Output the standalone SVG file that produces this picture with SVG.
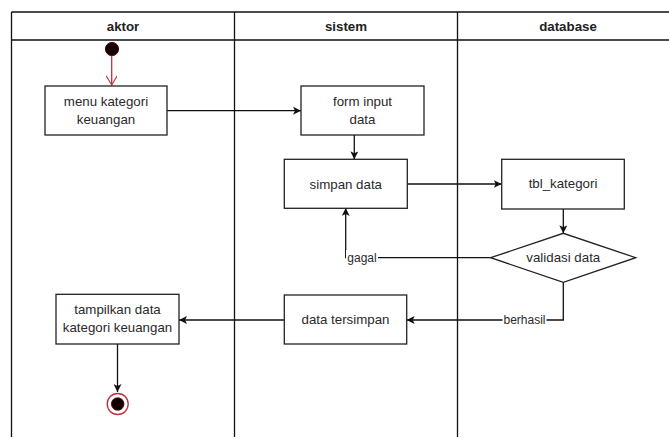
<svg xmlns="http://www.w3.org/2000/svg" width="669" height="438" viewBox="0 0 669 438">
  <style>
    .lane { fill: none; stroke: #111; stroke-width: 1.3; }
    .head { font-family: "Liberation Sans", Arial, sans-serif; font-size: 13.3px; font-weight: bold; fill: #222; text-anchor: middle; }
    .box { fill: #fff; stroke: #222; stroke-width: 1.3; }
    .txt { font-family: "Liberation Sans", Arial, sans-serif; font-size: 13.3px; fill: #2a2a2a; text-anchor: middle; }
    .lbl { font-family: "Liberation Sans", Arial, sans-serif; font-size: 12px; fill: #2a2a2a; text-anchor: middle; }
    .edge { fill: none; stroke: #111; stroke-width: 1.3; }
    .edge-red { fill: none; stroke: #c0303a; stroke-width: 1.3; }
  </style>
  <defs>
    <marker id="block" viewBox="0 0 10 10" refX="10" refY="5" markerWidth="8" markerHeight="8" markerUnits="userSpaceOnUse" orient="auto">
      <path d="M0,0 L10,5 L0,10 L2.5,5 Z" fill="#111"/>
    </marker>
    <marker id="open" viewBox="0 0 10 12" refX="10" refY="6" markerWidth="13" markerHeight="11" markerUnits="userSpaceOnUse" orient="auto">
      <path d="M0,0 L10,6 L0,12" fill="none" stroke="#c0303a" stroke-width="1.2"/>
    </marker>
  </defs>

  <rect width="669" height="438" fill="#fff"/>

  <!-- swimlanes -->
  <g id="lanes">
    <path class="lane" d="M11.5,12 H669 M11.5,40 H669 M11.5,12 V437 M234.5,12 V437 M457.5,12 V437"/>
    <text class="head" x="123" y="31">aktor</text>
    <text class="head" x="346" y="31">sistem</text>
    <text class="head" x="568" y="31">database</text>
  </g>

  <!-- connectors -->
  <g id="connectors">
    <path class="edge-red" d="M111.7,56 V85" marker-end="url(#open)"/>
    <path class="edge" d="M167,110.7 H301" marker-end="url(#block)"/>
    <path class="edge" d="M354.3,135 V159.3" marker-end="url(#block)"/>
    <path class="edge" d="M407.3,184 H501.7" marker-end="url(#block)"/>
    <path class="edge" d="M563.3,209 V233.3" marker-end="url(#block)"/>
    <path class="edge" d="M490.7,257.7 H345.7 V208" marker-end="url(#block)"/>
    <path class="edge" d="M563.3,282.3 V320 H406.7" marker-end="url(#block)"/>
    <path class="edge" d="M284.3,320 H179" marker-end="url(#block)"/>
    <path class="edge" d="M117.5,344 V392" marker-end="url(#block)"/>
    <rect x="346" y="250" width="32" height="15" fill="#fff"/>
    <text class="lbl" x="362" y="262">gagal</text>
    <rect x="502.5" y="312.5" width="44" height="15" fill="#fff"/>
    <text class="lbl" x="524.5" y="324">berhasil</text>
  </g>

  <!-- start -->
  <g id="start">
    <circle cx="112" cy="49" r="6.6" fill="#120000" stroke="#5a0000" stroke-width="1"/>
  </g>

  <g id="menu-kategori">
    <rect class="box" x="45" y="86" width="122" height="49"/>
    <text class="txt" x="106" y="105.5">menu kategori</text>
    <text class="txt" x="106" y="123.5">keuangan</text>
  </g>

  <g id="form-input">
    <rect class="box" x="301" y="86" width="123" height="49"/>
    <text class="txt" x="362.5" y="105.5">form input</text>
    <text class="txt" x="362.5" y="123.5">data</text>
  </g>

  <g id="simpan-data">
    <rect class="box" x="284.3" y="159.3" width="123" height="49"/>
    <text class="txt" x="345.8" y="188.5">simpan data</text>
  </g>

  <g id="tbl-kategori">
    <rect class="box" x="501.7" y="159.3" width="122.6" height="49.7"/>
    <text class="txt" x="563" y="188">tbl_kategori</text>
  </g>

  <g id="validasi-data">
    <polygon class="box" points="490.7,257.7 563.3,233.3 635.7,257.7 563.3,282.3"/>
    <text class="txt" x="563.3" y="262">validasi data</text>
  </g>

  <g id="data-tersimpan">
    <rect class="box" x="284.3" y="295" width="122.4" height="49"/>
    <text class="txt" x="345.5" y="323.5">data tersimpan</text>
  </g>

  <g id="tampilkan-data">
    <rect class="box" x="56" y="294.3" width="123" height="49.7"/>
    <text class="txt" x="117.5" y="314">tampilkan data</text>
    <text class="txt" x="117.5" y="332">kategori keuangan</text>
  </g>

  <!-- end -->
  <g id="end">
    <circle cx="117.7" cy="404" r="10.5" fill="#fff" stroke="#c0303a" stroke-width="1.3"/>
    <circle cx="117.7" cy="404" r="6.3" fill="#120000" stroke="#5a0000" stroke-width="0.8"/>
  </g>
</svg>
